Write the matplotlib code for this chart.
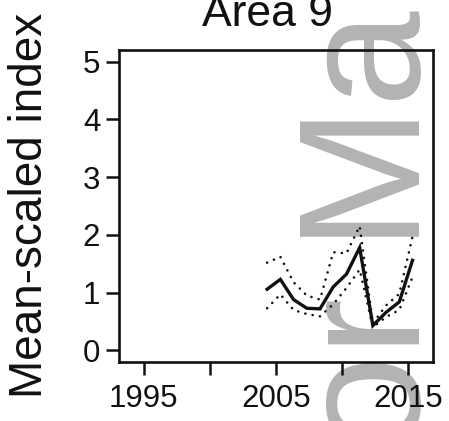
import matplotlib
matplotlib.use("Agg")
import matplotlib.pyplot as plt

plt.rcParams['font.family'] = ['Liberation Sans', 'DejaVu Sans']

# Data
years = [2004.33, 2005.33, 2006.33, 2007.33, 2008.33, 2009.33,
         2010.33, 2011.33, 2012.33, 2013.33, 2014.33, 2015.33]
index_mean = [1.06, 1.23, 0.88, 0.73, 0.72, 1.10, 1.32, 1.78, 0.43, 0.66, 0.84, 1.56]
index_upper = [1.52, 1.62, 1.18, 0.95, 0.88, 1.70, 1.68, 2.15, 0.47, 0.78, 0.98, 1.97]
index_lower = [0.73, 0.97, 0.70, 0.63, 0.59, 0.80, 1.08, 1.40, 0.40, 0.58, 0.70, 1.27]

xticks = [1995, 2000, 2005, 2010, 2015]
xticklabels = ['1995', '', '2005', '', '2015']
yticks = [0, 1, 2, 3, 4, 5]
yticklabels = ['0', '1', '2', '3', '4', '5']

W, H = 449, 421
fig = plt.figure(figsize=(W / 100, H / 100), dpi=100)
fig.patch.set_facecolor('white')

ax = fig.add_axes([119 / W, (H - 362) / H, (433 - 119) / W, (362 - 50) / H])
ax.set_facecolor('none')

ink = '#111111'
ax.plot(years, index_mean, color=ink, lw=2.4, solid_joinstyle='miter', zorder=3)
for series in (index_upper, index_lower):
    ax.plot(years, series, color=ink, lw=1.9, linestyle=(0, (0.01, 2.8)),
            dash_capstyle='round', zorder=3)

ax.set_xlim(1993.12, 2016.88)
ax.set_ylim(-0.2, 5.2)
ax.set_xticks(xticks)
ax.set_xticklabels(xticklabels)
ax.set_yticks(yticks)
ax.set_yticklabels(yticklabels)
ax.tick_params(axis='both', direction='out', length=9.5, width=1.8,
               labelsize=22.5, colors=ink)
ax.tick_params(axis='x', pad=6)
ax.tick_params(axis='y', pad=4)
for sp in ax.spines.values():
    sp.set_linewidth(1.9)
    sp.set_color(ink)

fig.text(267 / W, (H - 26) / H, 'Area 9', ha='center', va='baseline',
         fontsize=32, color=ink)
fig.text(42 / W, (H - 205) / H, 'Mean-scaled index', rotation=90,
         rotation_mode='anchor', ha='center', va='baseline',
         fontsize=33, color=ink)

# watermark behind the plot
fig.text(420 / W, (H - 451) / H, 'or Ma', rotation=90, rotation_mode='anchor',
         ha='left', va='baseline', fontsize=124, color='#b3b3b3', zorder=-1)

fig.savefig('out.png', dpi=100)
